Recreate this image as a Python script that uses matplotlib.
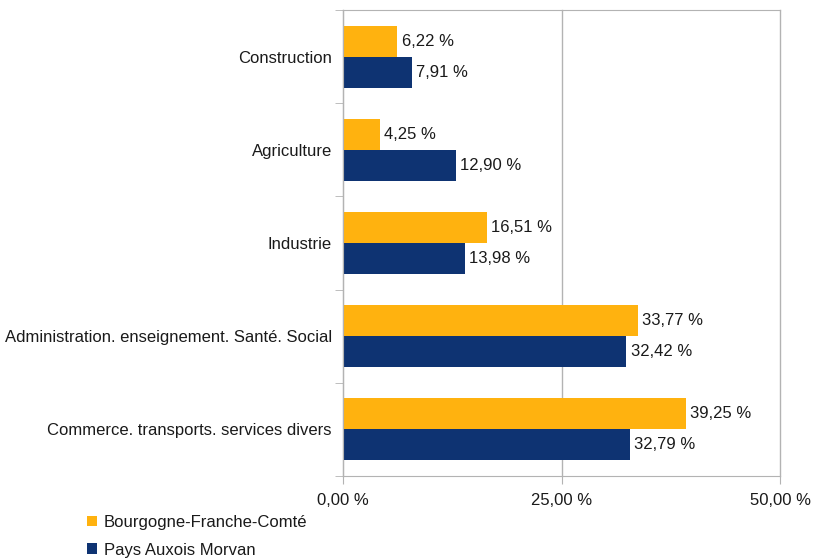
import matplotlib

matplotlib.use("Agg")
import matplotlib.pyplot as plt  # noqa: E402
import numpy as np  # noqa: E402

plt.rcParams["font.family"] = ["Liberation Sans", "DejaVu Sans"]

categories = [
    "Construction",
    "Agriculture",
    "Industrie",
    "Administration. enseignement. Santé. Social",
    "Commerce. transports. services divers",
]
bfc = [6.22, 4.25, 16.51, 33.77, 39.25]
pam = [7.91, 12.90, 13.98, 32.42, 32.79]
series_names = ["Bourgogne-Franche-Comté", "Pays Auxois Morvan"]
xticks = [0, 25, 50]

yellow = "#FFB20F"
blue = "#0E3372"
grey = "#B3B3B3"
txt = "#1a1a1a"
fs = 12

fig = plt.figure(figsize=(8.13, 5.6), dpi=100)
ax = fig.add_axes([343 / 813, 1 - 476 / 560, (780 - 343) / 813, (476 - 10) / 560])

y = np.arange(len(categories))
h = 1 / 3
b1 = ax.barh(y - h / 2, bfc, height=h, color=yellow, label=series_names[0])
b2 = ax.barh(y + h / 2, pam, height=h, color=blue, label=series_names[1])


def fmt(v):
    return f"{v:.2f}".replace(".", ",") + " %"


for bars, vals in ((b1, bfc), (b2, pam)):
    for rect, v in zip(bars, vals):
        ax.annotate(fmt(v), (v, rect.get_y() + rect.get_height() / 2),
                    xytext=(3, 0), textcoords="offset points",
                    va="center", ha="left", fontsize=fs, color=txt)

ax.set_xlim(0, 50)
ax.set_ylim(len(categories) - 0.5, -0.5)
ax.set_xticks(xticks)
ax.set_xticklabels([fmt(t) for t in xticks], fontsize=fs, color=txt)
ax.set_yticks(y)
ax.set_yticklabels(categories, fontsize=fs, color=txt)
ax.tick_params(axis="y", length=0, pad=8)
ax.set_yticks(np.arange(len(categories) + 1) - 0.5, minor=True)
ax.tick_params(axis="y", which="minor", length=6, color=grey, direction="out")
ax.tick_params(axis="x", length=6, color=grey, direction="out", pad=6)
ax.xaxis.grid(True, color=grey, linewidth=1)
for gl in ax.get_xgridlines():
    gl.set_clip_on(False)
ax.set_axisbelow(True)
for s in ("left", "top", "bottom"):
    ax.spines[s].set_color(grey)
ax.spines["right"].set_visible(False)

fig.legend(handles=[b1, b2], labels=series_names, loc="upper left",
           bbox_to_anchor=(72 / 813, 1 - 500 / 560), frameon=False,
           fontsize=fs, handlelength=0.6, handleheight=0.6,
           labelspacing=0.75, handletextpad=0.4, labelcolor=txt)

fig.savefig("out.png", dpi=100)
plt.close(fig)
